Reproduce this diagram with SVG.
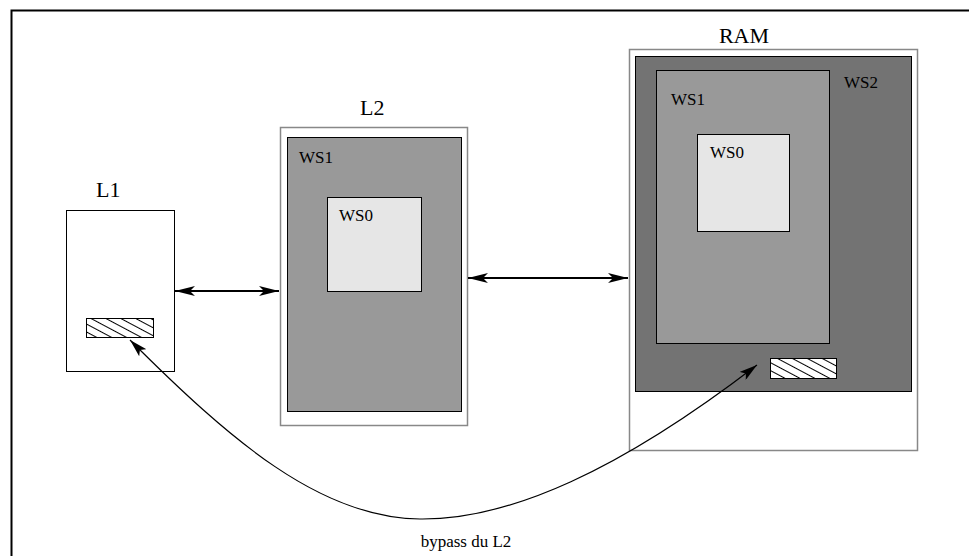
<svg xmlns="http://www.w3.org/2000/svg" width="969" height="556" viewBox="0 0 969 556">
<defs>
<marker id="ah" viewBox="0 0 20 10" refX="20" refY="5" markerWidth="20" markerHeight="10" markerUnits="userSpaceOnUse" orient="auto-start-reverse">
<path d="M0,0 L20,5 L0,10 L5,5 Z" fill="#000"/>
</marker>
<marker id="ah2" viewBox="0 0 18 10" refX="18" refY="5" markerWidth="18" markerHeight="10" markerUnits="userSpaceOnUse" orient="auto-start-reverse">
<path d="M0,0 L18,5 L0,10 L4,5 Z" fill="#000"/>
</marker>
<pattern id="hatch" width="7" height="7" patternUnits="userSpaceOnUse" patternTransform="rotate(28)">
<rect width="7" height="7" fill="#fff"/>
<line x1="0" y1="0.5" x2="7" y2="0.5" stroke="#000" stroke-width="1"/>
</pattern>
</defs>
<style>
.lbl{font-family:"Liberation Serif","Times New Roman",serif;fill:#000}
.big{font-size:22px}
.ws{font-size:17px}
.outer{fill:#fff;stroke:#000;stroke-width:1}
.gbox{fill:#fff;stroke:#888;stroke-width:1.5}
.hat{fill:url(#hatch);stroke:#000;stroke-width:1}
</style>
<g id="frame">
<path d="M11.5,556 L11.5,10.5 L969,10.5" fill="none" stroke="#000" stroke-width="2"/>
</g>
<g id="L1">
<rect class="outer" x="66.5" y="210.5" width="108" height="161"/>
<text class="lbl big" x="96" y="197">L1</text>
<rect class="hat" x="86.5" y="318.5" width="67" height="19"/>
</g>
<g id="L2">
<rect class="gbox" x="280.5" y="127.5" width="187" height="298"/>
<rect x="287.5" y="137.5" width="174" height="274" fill="#999" stroke="#000" stroke-width="1"/>
<rect x="327.5" y="197.5" width="94" height="94" fill="#e6e6e6" stroke="#000" stroke-width="1"/>
<text class="lbl big" x="360" y="115">L2</text>
<text class="lbl ws" x="299" y="163">WS1</text>
<text class="lbl ws" x="339" y="221">WS0</text>
</g>
<g id="RAM">
<rect class="gbox" x="629.5" y="49.5" width="288" height="401"/>
<rect x="635.5" y="56.5" width="276" height="335" fill="#737373" stroke="#000" stroke-width="1"/>
<rect x="656.5" y="70.5" width="173" height="273" fill="#999" stroke="#000" stroke-width="1"/>
<rect x="697.5" y="134.5" width="92" height="97" fill="#e6e6e6" stroke="#000" stroke-width="1"/>
<rect class="hat" x="770.5" y="358.5" width="66" height="20"/>
<text class="lbl big" x="744" y="43" text-anchor="middle">RAM</text>
<text class="lbl ws" x="844" y="88">WS2</text>
<text class="lbl ws" x="671" y="105">WS1</text>
<text class="lbl ws" x="710" y="158">WS0</text>
</g>
<g id="connectors">
<line x1="175" y1="291" x2="279" y2="291" stroke="#000" stroke-width="2" marker-start="url(#ah)" marker-end="url(#ah)"/>
<line x1="468" y1="278" x2="628" y2="278" stroke="#000" stroke-width="2" marker-start="url(#ah)" marker-end="url(#ah)"/>
<path d="M757,365 C620,470 510,520 420,519 C320,518 230,440 130,340" fill="none" stroke="#000" stroke-width="1.2" marker-start="url(#ah2)" marker-end="url(#ah2)"/>
<text class="lbl" style="font-size:17px" x="466" y="547" text-anchor="middle">bypass du L2</text>
</g>
</svg>
